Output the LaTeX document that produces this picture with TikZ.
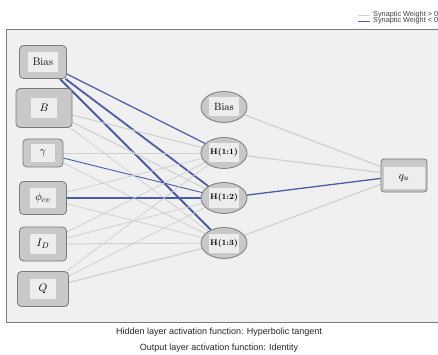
\documentclass[tikz,border=0pt]{standalone}
\usepackage{fontspec}
\newfontfamily\sansf{Liberation Sans}
\usetikzlibrary{shapes.geometric}
\definecolor{negc}{HTML}{4A5BA8}
\definecolor{posc}{HTML}{D0D0D0}
\definecolor{panelc}{HTML}{F0F0F0}
\definecolor{nodefill}{HTML}{C8C8C8}
\definecolor{nodeline}{HTML}{7A7A7A}
\definecolor{innerfill}{HTML}{EDEDED}
\pgfdeclarelayer{bg}\pgfdeclarelayer{edges}\pgfsetlayers{bg,edges,main}
\begin{document}
\begin{tikzpicture}[x=1pt,y=-1pt,
  inbox/.style={draw=nodeline, fill=nodefill, rounded corners=4pt, line width=0.8pt, inner sep=0pt},
  innerbox/.style={fill=innerfill, inner sep=2pt, minimum width=26pt, minimum height=20pt, font=\fontsize{11}{13}\selectfont},
  hid/.style={ellipse, draw=nodeline, fill=nodefill, line width=0.8pt, minimum width=46pt, minimum height=31pt, inner sep=0pt},
  hidinner/.style={fill=innerfill, inner sep=1.5pt, minimum width=30pt, minimum height=19pt, font=\fontsize{8}{9}\selectfont\bfseries},
  posedge/.style={draw=posc, line width=#1},
  negedge/.style={draw=negc, line width=#1},
  lab/.style={font=\sansf\fontsize{9}{11}\selectfont, text=black!85},
  leg/.style={font=\sansf\fontsize{7.3}{8}\selectfont, text=black!75, anchor=west, inner sep=0pt}]
\useasboundingbox (0,0) rectangle (438,355);
\begin{pgfonlayer}{bg}
\fill[white] (0,0) rectangle (438,355);
\draw[draw=nodeline, fill=panelc, line width=0.7pt] (6,29) rectangle (440,322);
\end{pgfonlayer}
% legend
\coordinate (lp1) at (358,15); \coordinate (lp2) at (370,15);
\coordinate (ln1) at (358,21); \coordinate (ln2) at (370,21);
\draw[draw=posc, line width=0.8pt] (lp1) -- (lp2);
\draw[draw=negc, line width=0.8pt] (ln1) -- (ln2);
\node[leg] (legp) at (373,15) {Synaptic Weight > 0};
\node[leg] (legn) at (373,21) {Synaptic Weight < 0};
% input nodes
\node[inbox, minimum width=47pt, minimum height=33pt] (i0) at (43,62) {};
\node[innerbox, minimum width=30pt] (i0t) at (i0) {Bias};
\node[inbox, minimum width=56pt, minimum height=39pt] (i1) at (44,108) {};
\node[innerbox] (i1t) at (i1) {$B$};
\node[inbox, minimum width=40pt, minimum height=28pt] (i2) at (43,153) {};
\node[innerbox, minimum width=24pt, minimum height=18pt] (i2t) at (i2) {$\gamma$};
\node[inbox, minimum width=47pt, minimum height=33pt] (i3) at (43,198) {};
\node[innerbox] (i3t) at (i3) {$\phi_{cv}$};
\node[inbox, minimum width=47pt, minimum height=34pt] (i4) at (43,244) {};
\node[innerbox] (i4t) at (i4) {$I_D$};
\node[inbox, minimum width=51pt, minimum height=35pt] (i5) at (43,289) {};
\node[innerbox] (i5t) at (i5) {$Q$};
% hidden nodes
\node[hid] (h0) at (224,107) {};
\node[hidinner, font=\fontsize{10.5}{12}\selectfont] (h0t) at (h0) {Bias};
\node[hid] (h1) at (224,153) {};
\node[hidinner] (h1t) at (h1) {H(1:1)};
\node[hid] (h2) at (224,198) {};
\node[hidinner] (h2t) at (h2) {H(1:2)};
\node[hid] (h3) at (224,243) {};
\node[hidinner] (h3t) at (h3) {H(1:3)};
% output
\node[inbox, rounded corners=3pt, minimum width=46pt, minimum height=33pt] (o) at (404,175.5) {};
\node[fill=innerfill, minimum width=41pt, minimum height=22pt, inner sep=0pt, font=\fontsize{11}{13}\selectfont] (ot) at (404,178) {$q_u$};
% edges
\begin{pgfonlayer}{edges}
\draw[negedge=1.2pt] (i0) -- (h1);
\draw[negedge=1.8pt] (i0) -- (h2);
\draw[negedge=1.8pt] (i0) -- (h3);
\draw[posedge=1.0pt] (i1) -- (h1);
\draw[posedge=1.0pt] (i1) -- (h2);
\draw[posedge=0.8pt] (i1) -- (h3);
\draw[posedge=0.6pt] (i2) -- (h1);
\draw[negedge=0.9pt] (i2) -- (h2);
\draw[posedge=0.8pt] (i2) -- (h3);
\draw[posedge=0.8pt] (i3) -- (h1);
\draw[negedge=1.5pt] (i3) -- (h2);
\draw[posedge=0.8pt] (i3) -- (h3);
\draw[posedge=0.8pt] (i4) -- (h1);
\draw[posedge=0.8pt] (i4) -- (h2);
\draw[posedge=1.0pt] (i4) -- (h3);
\draw[posedge=0.8pt] (i5) -- (h1);
\draw[posedge=0.8pt] (i5) -- (h2);
\draw[posedge=1.2pt] (i5) -- (h3);
\draw[posedge=1.2pt] (h0) -- (o);
\draw[posedge=1.2pt] (h1) -- (o);
\draw[negedge=1.3pt] (h2) -- (o);
\draw[posedge=1.2pt] (h3) -- (o);
\end{pgfonlayer}
% captions
\node[lab] (c1) at (219,332) {Hidden layer activation function: Hyperbolic tangent};
\node[lab] (c2) at (219,348) {Output layer activation function: Identity};
\end{tikzpicture}
\end{document}
